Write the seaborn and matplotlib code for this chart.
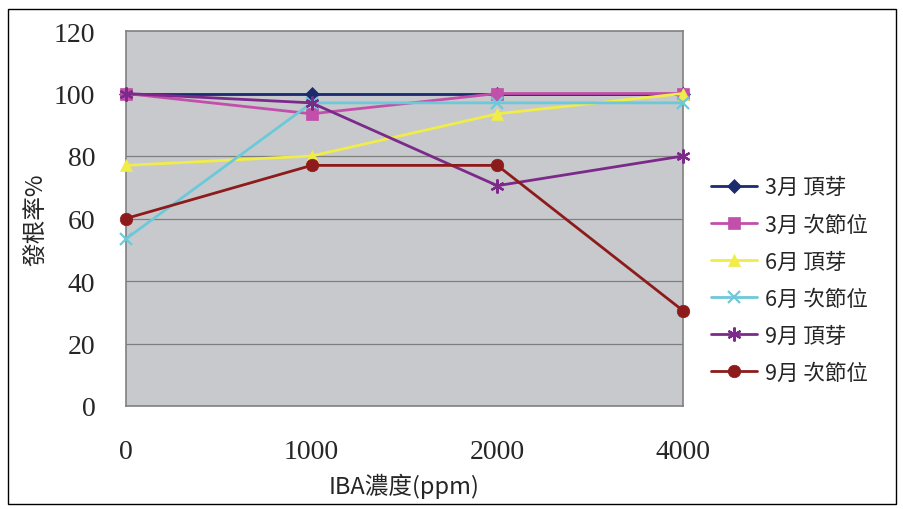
import matplotlib
matplotlib.use("Agg")
import matplotlib.pyplot as plt
import seaborn as sns
import pandas as pd
from matplotlib.patches import Rectangle

concentrations = ["0", "1000", "2000", "4000"]
series_names = ["3月 頂芽", "3月 次節位", "6月 頂芽", "6月 次節位", "9月 頂芽", "9月 次節位"]
mar_bud = [100, 100, 100, 100]
mar_node = [100, 93.5, 100, 100]
jun_bud = [77, 80, 93.5, 100]
jun_node = [53.5, 97, 97, 97]
sep_bud = [100, 97, 70.5, 80]
sep_node = [60, 77, 77, 30.5]
yticks = [0, 20, 40, 60, 80, 100, 120]

values = [mar_bud, mar_node, jun_bud, jun_node, sep_bud, sep_node]
rows = []
for name, vals in zip(series_names, values):
    for c, v in zip(concentrations, vals):
        rows.append({"conc": c, "rate": v, "series": name})
df = pd.DataFrame(rows)

sns.set_theme(style="white")
plt.rcParams['font.family'] = ['Noto Sans CJK TC', 'DejaVu Sans']

colors = ["#1c2a6e", "#c24fa9", "#f0ec48", "#6cc9da", "#7b2a8a", "#8e1b1b"]
markers = ["D", "s", "^", "x", (6, 2, 0), "o"]
msizes = [7, 9, 9, 9, 10, 9]

fig = plt.figure(figsize=(9.04, 5.10), dpi=100)
fig.patches.append(Rectangle((8/904, 1-505/510), (896-8)/904, (505-10)/510,
                             transform=fig.transFigure, fill=False,
                             edgecolor="black", linewidth=1.0))
ax = fig.add_axes([126/904, 1-407/510, (683-126)/904, (407-32)/510])
ax.set_facecolor("#c8c9cc")

for name, col, mk, ms in zip(series_names, colors, markers, msizes):
    sub = df[df["series"] == name]
    sns.lineplot(data=sub, x="conc", y="rate", ax=ax, color=col, marker=mk,
                 markersize=ms, markeredgecolor=col,
                 markeredgewidth=1.6 if mk in ("x", (6, 2, 0)) else 0.5,
                 linewidth=2.0, label=name, clip_on=False, zorder=3, sort=False)

ax.set_xlim(0, 3)
ax.set_ylim(0, 120)
ax.set_yticks(yticks)
for y in yticks[1:-1]:
    ax.axhline(y, color="#7f7f7f", linewidth=0.9, zorder=1)
for s in ax.spines.values():
    s.set_color("#808080")
    s.set_linewidth(1.2)
ax.tick_params(axis="y", length=0, pad=22)
ax.tick_params(axis="x", length=5, direction="in", pad=24, color="#808080")
for lab in ax.get_xticklabels() + ax.get_yticklabels():
    lab.set_fontfamily("Liberation Serif")
    lab.set_fontsize(20)
ax.set_xlabel("IBA濃度(ppm)", fontsize=17, labelpad=6)
ax.set_ylabel("發根率%", fontsize=17, labelpad=4)

leg = ax.legend(loc="center left", bbox_to_anchor=(692/904, 1-281/510),
                bbox_transform=fig.transFigure, frameon=False, fontsize=15.5,
                handlelength=2.1, labelspacing=0.7, handletextpad=0.4)

fig.savefig("out.png", dpi=100)
